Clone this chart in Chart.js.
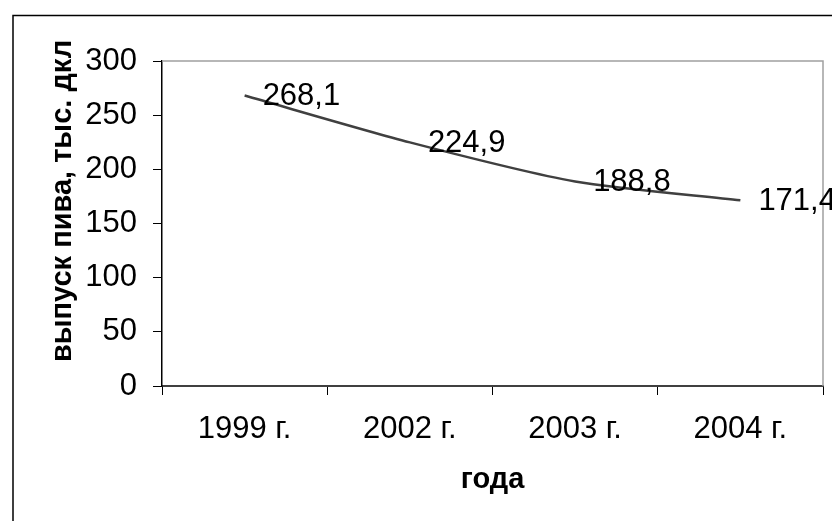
<!DOCTYPE html>
<html>
<head>
<meta charset="utf-8">
<script src="https://cdn.jsdelivr.net/npm/chart.js@4/dist/chart.umd.min.js"></script>
<style>
  html, body { margin: 0; padding: 0; background: #fff; }
  canvas { display: block; }
</style>
</head>
<body>
<canvas id="c" width="832" height="521"></canvas>
<script>
// Выпуск пива по годам, тыс. дкл
const years = ['1999 г.', '2002 г.', '2003 г.', '2004 г.'];
const output = [268.1, 224.9, 188.8, 171.4];
const valueLabels = ['268,1', '224,9', '188,8', '171,4'];
const yTitle = 'выпуск пива, тыс. дкл';
const xTitle = 'года';

const FONT = '"Liberation Sans", Arial, sans-serif';
const TEXT_SIZE = 31;
const TITLE_SIZE = 29;

// outer frame and the grey plot-area border (top and right sides)
const framePlugin = {
  id: 'frame',
  beforeDatasetsDraw(chart) {
    const { ctx, chartArea: a } = chart;
    ctx.save();
    ctx.strokeStyle = '#000';
    ctx.lineWidth = 1.5;
    ctx.beginPath();
    ctx.moveTo(13, chart.height + 5);
    ctx.lineTo(13, 15.5);
    ctx.lineTo(chart.width + 5, 15.5);
    ctx.stroke();

    ctx.strokeStyle = '#a0a0a0';
    ctx.lineWidth = 1.5;
    ctx.beginPath();
    ctx.moveTo(a.left, a.top);
    ctx.lineTo(a.right, a.top);
    ctx.lineTo(a.right, a.bottom);
    ctx.stroke();
    ctx.restore();
  }
};

// value labels to the right of each point, and the axis titles
const labelsPlugin = {
  id: 'valueLabels',
  afterDatasetsDraw(chart) {
    const { ctx, chartArea: a } = chart;
    const meta = chart.getDatasetMeta(0);
    ctx.save();
    ctx.fillStyle = '#000';
    ctx.font = TEXT_SIZE + 'px ' + FONT;
    ctx.textAlign = 'left';
    ctx.textBaseline = 'middle';
    meta.data.forEach((pt, i) => {
      ctx.fillText(valueLabels[i], pt.x + 18, pt.y + 1);
    });

    ctx.font = 'bold ' + TITLE_SIZE + 'px ' + FONT;
    ctx.textAlign = 'center';
    ctx.textBaseline = 'middle';
    ctx.fillText(xTitle, (a.left + a.right) / 2, 480);

    ctx.translate(63, 201);
    ctx.rotate(-Math.PI / 2);
    ctx.fillText(yTitle, 0, 0);
    ctx.restore();
  }
};

new Chart(document.getElementById('c'), {
  type: 'line',
  data: {
    labels: years,
    datasets: [{
      data: output,
      borderColor: '#404040',
      borderWidth: 2.5,
      tension: 0.25,
      pointRadius: 0,
      fill: false
    }]
  },
  options: {
    responsive: false,
    devicePixelRatio: 1,
    animation: false,
    layout: { padding: { top: 61, right: 9, left: 0, bottom: 0 } },
    plugins: {
      legend: { display: false },
      tooltip: { enabled: false }
    },
    scales: {
      x: {
        type: 'category',
        offset: true,
        afterFit(scale) { scale.height = 135; },
        grid: {
          offset: true,
          drawOnChartArea: false,
          tickLength: 9,
          color: '#000',
          lineWidth: 1
        },
        border: { color: '#404040', width: 2 },
        ticks: {
          color: '#000',
          font: { family: FONT, size: TEXT_SIZE },
          padding: 16,
          maxRotation: 0,
          autoSkip: false
        }
      },
      y: {
        min: 0,
        max: 300,
        afterFit(scale) { scale.width = 162; },
        grid: {
          drawOnChartArea: false,
          tickLength: 9,
          color: '#000',
          lineWidth: 1
        },
        border: { color: '#000', width: 1.5 },
        ticks: {
          stepSize: 50,
          color: '#000',
          font: { family: FONT, size: TEXT_SIZE },
          padding: 16
        }
      }
    }
  },
  plugins: [framePlugin, labelsPlugin]
});
</script>
</body>
</html>
